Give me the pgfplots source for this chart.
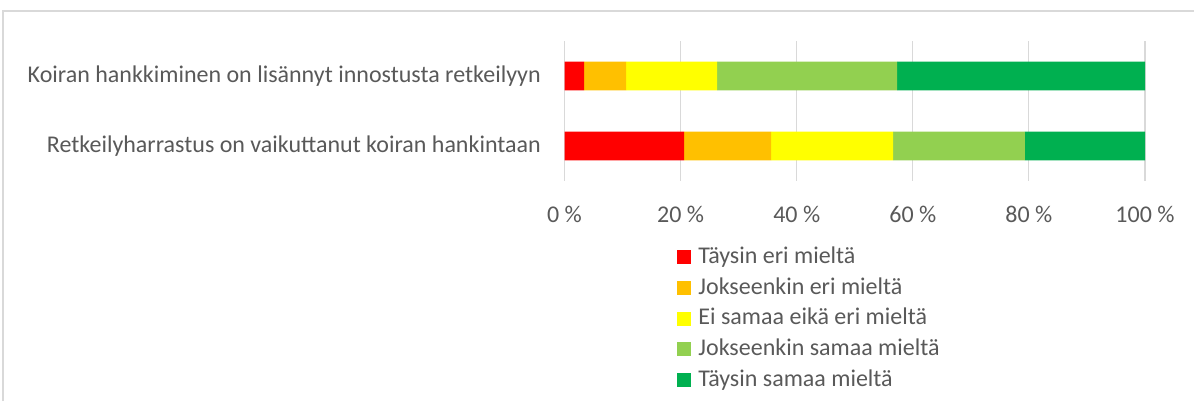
\documentclass[border=0pt]{standalone}
\usepackage{pgfplots}
\pgfplotsset{compat=1.18}
\usepackage{fontspec}
\setmainfont{Carlito}
\definecolor{txt}{HTML}{595959}
\definecolor{grd}{HTML}{D9D9D9}
\definecolor{c1}{HTML}{FF0000}
\definecolor{c2}{HTML}{FFC000}
\definecolor{c3}{HTML}{FFFF00}
\definecolor{c4}{HTML}{92D050}
\definecolor{c5}{HTML}{00B050}
\begin{document}
\begin{tikzpicture}
\useasboundingbox (0,0) rectangle (716.4pt,240.6pt);
\draw[grd, line width=0.8pt] (1.8pt,0pt) -- (1.8pt,234pt) -- (716.4pt,234pt);
\begin{axis}[
  at={(338.7pt,132pt)}, anchor=south west,
  scale only axis, width=348.3pt, height=84pt,
  xbar stacked, bar width=0.41,
  xmin=0, xmax=100, ymin=0.5, ymax=2.5,
  axis line style={draw=none},
  tick style={draw=none},
  xmajorgrids, major grid style={grd, line width=0.7pt},
  xtick={0,20,40,60,80,100},
  xticklabels={0 \%,20 \%,40 \%,60 \%,80 \%,100 \%},
  ytick={1,2},
  yticklabels={Retkeilyharrastus on vaikuttanut koiran hankintaan, Koiran hankkiminen on lisännyt innostusta retkeilyyn},
  xticklabel style={font=\fontsize{14.4}{17}\selectfont, text=txt, inner sep=0pt, yshift=-15pt},
  yticklabel style={font=\fontsize{14.4}{17}\selectfont, text=txt, inner sep=0pt, xshift=-14pt},
  legend style={at={(0.194,-0.467)}, anchor=north west, draw=none, fill=none,
    inner sep=0pt, font=\fontsize{14.4}{17}\selectfont, text=txt,
    nodes={inner sep=0pt, text height=10pt, text depth=3.5pt}, row sep=4.9pt},
  legend cell align=left,
  legend image code/.code={\fill[#1] (0pt,-3.8pt) rectangle (8.4pt,4.6pt);},
  /tikz/every odd column/.append style={column sep=4.2pt},
]
\addplot[fill=c1, draw=none] coordinates {(3.4,2) (20.6,1)};
\addplot[fill=c2, draw=none] coordinates {(7.2,2) (15.0,1)};
\addplot[fill=c3, draw=none] coordinates {(15.7,2) (21.0,1)};
\addplot[fill=c4, draw=none] coordinates {(31.0,2) (22.7,1)};
\addplot[fill=c5, draw=none] coordinates {(42.7,2) (20.7,1)};
\legend{Täysin eri mieltä, Jokseenkin eri mieltä, Ei samaa eikä eri mieltä, Jokseenkin samaa mieltä, Täysin samaa mieltä}
\end{axis}
\end{tikzpicture}
\end{document}
